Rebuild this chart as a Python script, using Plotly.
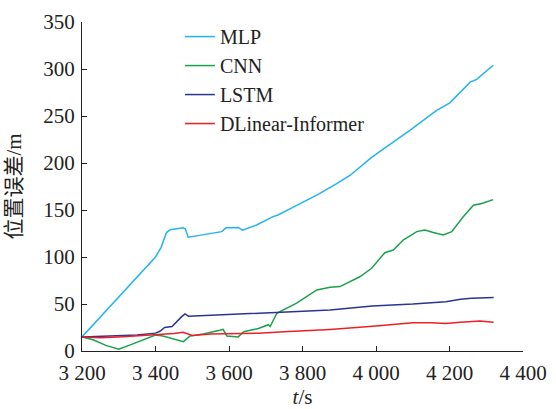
import plotly.graph_objects as go

# Position error over time for four models
mlp_t = [3200, 3250, 3300, 3350, 3400, 3415, 3430, 3440, 3475, 3481, 3489, 3520, 3580, 3592,
         3625, 3637, 3675, 3720, 3735, 3775, 3840, 3893, 3930, 3988, 4047, 4093, 4165, 4201,
         4256, 4274, 4319]
mlp_v = [15, 36, 57, 78, 100, 110, 126, 129, 131, 130, 121, 123, 127, 131,
         131.5, 128.5, 134, 143, 145, 153, 166, 178, 187, 206, 222, 235, 256, 264,
         286, 289, 304]

cnn_t = [3200, 3230, 3265, 3300, 3335, 3367, 3400, 3420, 3476, 3494, 3530, 3575, 3584, 3594,
         3625, 3640, 3680, 3707, 3712, 3730, 3784, 3839, 3875, 3902, 3929, 3956, 3988, 4024,
         4047, 4074, 4111, 4133, 4156, 4183, 4206, 4238, 4265, 4288, 4319]
cnn_v = [15, 12, 6, 2, 7, 12, 17, 16, 10, 16, 18, 22, 23, 16,
         15, 20.5, 24, 28, 26, 40, 51, 65, 67.7, 68.5, 74, 79, 88, 104.6,
         107.4, 118, 127, 128.7, 126, 123.4, 127, 143, 155, 157, 161]

lstm_t = [3200, 3280, 3350, 3400, 3412, 3425, 3445, 3470, 3480, 3490, 3550, 3650, 3700, 3800,
          3875, 3990, 4100, 4190, 4230, 4260, 4320]
lstm_v = [15, 16, 17, 19, 21, 25, 26, 36, 39.5, 37, 38, 39, 40, 42,
          43.5, 48, 50, 52.5, 55, 56, 57]

dli_t = [3200, 3250, 3300, 3350, 3400, 3450, 3475, 3500, 3550, 3600, 3680, 3750, 3875, 4000,
         4060, 4100, 4150, 4190, 4230, 4283, 4320]
dli_v = [15, 14, 15, 16, 17, 18.5, 20, 16.5, 18, 18.5, 19, 20.5, 23, 26.5,
         28.5, 30, 30, 29.3, 30.5, 32, 30.5]

x_ticks = [3200, 3400, 3600, 3800, 4000, 4200, 4400]
x_labels = ["3 200", "3 400", "3 600", "3 800", "4 000", "4 200", "4 400"]
y_ticks = [0, 50, 100, 150, 200, 250, 300, 350]

serif = "'Liberation Serif', 'Noto Sans CJK SC', serif"

fig = go.Figure()
series = [
    ("MLP", mlp_t, mlp_v, "#22B4EC"),
    ("CNN", cnn_t, cnn_v, "#1AA14A"),
    ("LSTM", lstm_t, lstm_v, "#2B3590"),
    ("DLinear-Informer", dli_t, dli_v, "#EE1F26"),
]
for name, t, v, color in series:
    fig.add_trace(go.Scatter(x=t, y=v, mode="lines", name=name,
                             line=dict(color=color, width=1.5)))

axis_font = dict(family=serif, size=21, color="#222222")

fig.update_layout(
    width=556, height=409,
    margin=dict(l=82, r=33, t=22, b=58),
    paper_bgcolor="white", plot_bgcolor="white",
    font=axis_font,
    showlegend=True,
    legend=dict(x=0.222, y=1.015, xanchor="left", yanchor="top",
                bgcolor="rgba(0,0,0,0)",
                font=dict(family=serif, size=20, color="#222222")),
    xaxis=dict(range=[3200, 4400], tickvals=x_ticks, ticktext=x_labels,
               tickfont=axis_font, ticklabelstandoff=3, automargin=False,
               showgrid=False, zeroline=False, showline=True, linecolor="#222222",
               linewidth=1.2, ticks="inside", ticklen=5, tickcolor="#222222",
               title=dict(text="<i>t</i>/s", font=axis_font)),
    yaxis=dict(range=[0, 350], tickvals=y_ticks, tickfont=axis_font,
               ticklabelstandoff=2, automargin=False,
               showgrid=False, zeroline=False, showline=True, linecolor="#222222",
               linewidth=1.2, ticks="inside", ticklen=5, tickcolor="#222222",
               title=dict(text="位置误差/m", font=axis_font)),
)

fig.write_html("out.html")
